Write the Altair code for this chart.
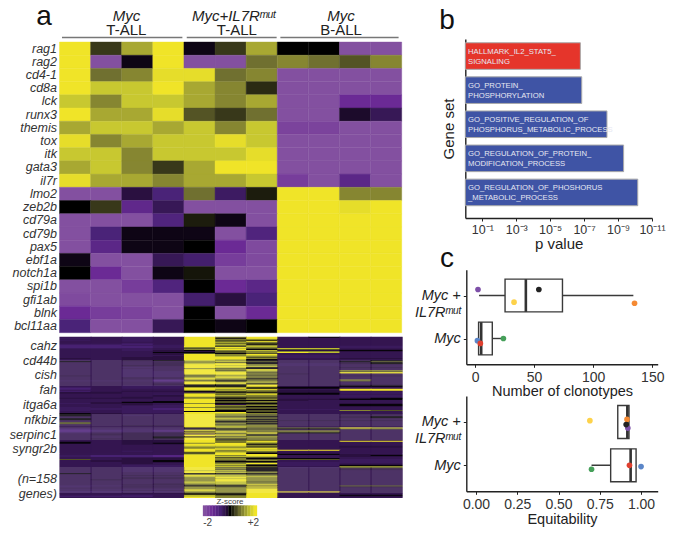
import altair as alt
import pandas as pd

FONT = "Liberation Sans"
W, H = 658, 520
def IX(v): return v - 8
def IY(v): return v - 8
def OFF(v): return IY(v) - H

Z_STOPS = [-2, -1.4, -0.8, -0.3, 0, 0.4, 0.8, 1.3, 1.6, 2]
Z_COLORS = ["#8350a0", "#6b2a95", "#4a2378", "#2a1040", "#000000", "#38381a", "#707030", "#a8a832", "#c8c830", "#f0e428"]

GENES_TOP = ["rag1","rag2","cd4-1","cd8a","lck","runx3","themis","tox","itk","gata3","il7r"]
VALUES_TOP = [
 [2,.4,1.3,2,-.1,.4,1.3,0,0,-2,-2],
 [2,-2,-.1,2,-2,-2,.8,1.0,.8,.6,1.0],
 [2,.8,1.0,1.9,1.9,.8,1.0,-2,-2,-2,-2],
 [2,1.6,1.6,2,1.3,1.0,.3,-2,-2,-2,-2],
 [1.6,1.0,1.6,1.6,1.3,1.0,1.3,-2,-2,-1.4,-1.4],
 [2,1.3,1.3,1.9,.6,.4,.8,-2,-2,-.2,-.5],
 [1.3,1.6,1.6,1.3,1.6,1.0,1.6,-1.8,-1.8,-2,-2],
 [1.9,1.0,1.3,1.6,1.6,1.9,1.6,-2,-2,-2,-2],
 [1.6,1.6,1.0,1.6,1.6,1.6,1.9,-2,-2,-2,-2],
 [1.3,1.6,1.0,.4,1.3,2,2,-2,-2,-2,-2],
 [1.9,1.3,1.3,1.0,1.3,1.3,1.6,-1.7,-2,-1.1,-2],
]
GENES_MID = ["lmo2","zeb2b","cd79a","cd79b","pax5","ebf1a","notch1a","spi1b","gfi1ab","blnk","bcl11aa"]
VALUES_MID = [
 [-2,-2,-.3,-.8,.8,-.6,.2,2,2,1.0,1.0],
 [0,.4,-1.2,-.5,-2,-2,-2,2,2,1.9,2],
 [-2,-2,-2,-.9,.2,-.1,-2,2,2,2,2],
 [-2,-.8,-.1,-.1,-.1,-2,-.9,2,2,2,2],
 [-2,-1.1,-.1,-.1,0,-1.4,-1.9,2,2,2,2],
 [-.1,-2,-2,-.5,-.7,-1.7,-1.9,2,2,2,2],
 [0,-1.4,-2,-.1,.15,-2,-2,2,2,2,2],
 [-2,-2,-1.7,-.9,0,-1.4,-1.1,2,2,2,2],
 [-1.9,-2,-2,-2,-.7,-.3,-.8,2,2,2,2],
 [-1.4,-1.7,-1.8,-2,0,-2,-1.4,2,2,2,2],
 [-.8,-2,-2,-.5,0,-.1,0,2,2,2,2],
]
LEVELS = [-1.0, -0.75, -0.55, -0.45, -0.3, -0.05, 0.6, 1.0, 1.5, 2]
ROWS_LOW = """3323 979 3533|2323 959 3333|3323 978 3333|2323 965 3333|3323 969 3333|3333 987 3333|3323 966 3333|2213 985 3333
1122 977 3333|1112 968 3322|1112 797 3322|2223 686 8833|3323 795 6644|3324 578 4455|3334 467 7744|3335 567 9833
3334 656 3333|3334 979 3333|3333 978 2233|3334 987 2233|3344 996 2233|4344 997 3344|3344 985 3333|3345 875 3345
5333 786 3356|3334 765 3345|3334 895 2245|3334 997 2233|3344 987 2233|3333 998 3333|3323 985 3344|3333 765 3333
3323 979 3333|3323 968 3377|3322 987 3366|3322 996 3399|3322 997 4333|3322 786 3333|4322 676 3344|3322 797 3333
3344 886 3333|3333 975 3333|3331 767 3373|2220 656 3363|3332 978 3333|3333 997 3333|3334 985 3333|3334 559 3344
3322 559 3355|2322 776 5533|1322 995 5533|1333 979 3399|3333 887 4499|1344 567 4433|4433 455 4422|4433 777 5522
3332 969 5533|3334 987 3322|3334 977 3322|3343 766 3322|4443 756 3345|3333 967 4455|3333 955 4333|3345 967 3333
3455 966 3333|2443 755 3344|3343 946 3355|3332 977 3355|3322 965 3344|2322 766 3333|2221 976 3333|2221 965 2233
2322 956 3376|3322 556 3333|3322 995 3333|5433 987 3333|5333 976 3344|5323 976 3333|4333 965 3345|3333 976 3345
5333 986 3333|5333 975 3333|3333 966 4444|3333 955 3333|6333 966 3333|6333 975 3333|3333 966 3333|3344 977 3333
3333 987 3333|3333 576 6698|1222 456 5566|1222 766 3333|0120 977 7733|1222 596 6633|2344 979 5533|3444 467 3333
3444 995 3333|3344 976 3333|3345 568 3333|3345 986 3333|3444 957 3333|3344 966 3333|3344 979 3399|5344 968 3333
5345 797 3333|3344 995 3333|3333 997 3333|3333 886 3344|3333 776 3344|3333 789 3333|3333 998 3333|3333 979 9933
3323 977 3333|3333 686 3333|3333 695 4433|3333 899 5544|2110 979 3345|2110 988 3344|3333 966 3333|3344 975 5533
6344 976 6622|3445 967 3322|3445 955 3322|3344 966 2222|3343 979 2233|3333 986 2244|3322 975 2255|3322 986 3377
3322 965 2266|3322 975 3344|3322 965 3344|3322 885 3333|3322 976 3333|3333 987 3333|5333 555 3333|3333 776 3333
3344 987 3333|3333 888 3333|3344 797 3333|3344 787 3333|3433 797 3333|3333 797 3333|3333 886 3333|3333 887 3333
3334 787 3333|3344 669 3333|2233 556 3366|2344 769 3344|3333 777 3333|3333 779 3333|2222 979 3333|3344 879 3333
1111 779 9933|3344 669 3333|3333 559 3333|3323 869 3355|1113 879 3344|3333 979 3333"""
ROWS_LOW = [r.replace(" ", "") for line in ROWS_LOW.split("\n") for r in line.split("|")]
LOW_LABELS = {"8.5":"cahz","23":"cd44b","37.5":"cish","52":"fah","66.5":"itga6a","81":"nfkbiz","95.5":"serpinc1","110":"syngr2b","139.5":"(n=158","154":"genes)"}
LOW_TICKS = [8.5,23,37.5,52,66.5,81,95.5,110,139.5,154]

LEGEND_Z = [-2,-1.75,-1.5,-1.25,-1,-.75,-.5,-.25,0,.25,.5,.75,1,1.25,1.5,1.75,2]

HEAD_TOP = ["Myc","Myc+IL7Rᵐᵘᵗ","Myc"]
HEAD_TOP_X = [2.15,5.6,9.05]
HEAD_BOT = ["T-ALL","T-ALL","B-ALL"]
HEAD_BOT_X = [2.15,5.7,9.05]
RULE_START = [0.08,4.09,7.1]
RULE_END = [3.95,6.98,10.9]

GENESETS = ["HALLMARK_IL2_STAT5_\nSIGNALING","GO_PROTEIN_\nPHOSPHORYLATION","GO_POSITIVE_REGULATION_OF\nPHOSPHORUS_METABOLIC_PROCESS","GO_REGULATION_OF_PROTEIN_\nMODIFICATION_PROCESS","GO_REGULATION_OF_PHOSHORUS\n_METABOLIC_PROCESS"]
PVALS = [1.66e-7,1.38e-7,4.5e-9,4.7e-10,6.9e-11]
BAR_COLORS = ["#e5352b","#3f54a5","#3f54a5","#3f54a5","#3f54a5"]
P_TICKS = [1e-1,1e-3,1e-5,1e-7,1e-9,1e-11]

CAT_Y = [0,1]
C1_BOX = dict(q1=[25.4,3], med=[43,5.2], q3=[74,14.6], lo=[3.4,3], hi=[134,24])
C1_PTS = dict(x=[2.5,33,54,135,2,4.5,24], y=[-.14,.155,-.14,.18,1.05,1.115,1.0],
              c=["#7d4fa8","#fdd24a","#222222","#f58a33","#5b86c8","#e0402f","#46a05a"])
C2_BOX = dict(q1=[.859,.816], med=[.917,.937], q3=[.927,.97], lo=[.859,.70], hi=[.927,.97])
C2_PTS = dict(x=[.69,.92,.915,.91,.70,1.0,.93], y=[-.03,.14,-.06,.06,1.09,1.03,1.0],
              c=["#fdd24a","#7d4fa8","#f58a33","#222222","#46a05a","#5b86c8","#e0402f"])

z_scale = alt.Scale(domain=Z_STOPS, range=Z_COLORS, interpolate="rgb")
heat_color = alt.Color("z:Q", scale=z_scale, legend=None)
heat_stroke = alt.Stroke("z:Q", scale=z_scale, legend=None)
x_heat = alt.Scale(domain=[0,11], range=[IX(59.5), IX(401.7)], nice=False, zero=False)

def long_heat(genes, vals):
    return pd.DataFrame([{"g":g,"c":j,"c2":j+1,"z":v} for g,row in zip(genes,vals) for j,v in enumerate(row)])

gene_axis = dict(orient="left", offset=-IX(59.5), title=None, ticks=False, domain=False, labelFont=FONT,
                 labelFontStyle="italic", labelFontSize=12.5, labelColor="#333333", labelPadding=3, labelOverlap=False)

def heat_panel(genes, vals, y0, y1):
    return alt.Chart(long_heat(genes, vals)).mark_rect(strokeWidth=0.4).encode(
        x=alt.X("c:Q", scale=x_heat, axis=None),
        x2="c2:Q",
        y=alt.Y("g:N", sort=genes, scale=alt.Scale(domain=genes, range=[IY(y0),IY(y1)]), axis=alt.Axis(**gene_axis)),
        color=heat_color, stroke=heat_stroke)

low_df = pd.DataFrame([{"r":i,"r2":i+1.25,"c":j,"c2":j+1.03,"z":LEVELS[int(ch)]} for i,row in enumerate(ROWS_LOW) for j,ch in enumerate(row)])
label_expr = "{" + ",".join(f"'{k}':'{v}'" for k,v in LOW_LABELS.items()) + "}[''+datum.value]"
low = alt.Chart(low_df).mark_rect(clip=True).encode(
    x=alt.X("c:Q", scale=x_heat, axis=None), x2="c2:Q",
    y=alt.Y("r:Q", scale=alt.Scale(domain=[0,len(ROWS_LOW)], range=[IY(336.7),IY(497.7)], nice=False, zero=False),
            axis=alt.Axis(values=LOW_TICKS, labelExpr=label_expr, grid=False, **gene_axis)),
    y2="r2:Q", color=heat_color)

head1 = alt.Chart(pd.DataFrame({"t":HEAD_TOP,"x":HEAD_TOP_X})).mark_text(font=FONT,fontSize=15,fontStyle="italic",color="#222222").encode(
    x=alt.X("x:Q",scale=x_heat,axis=None), y=alt.value(IY(15.5)), text="t:N")
head2 = alt.Chart(pd.DataFrame({"t":HEAD_BOT,"x":HEAD_BOT_X})).mark_text(font=FONT,fontSize=15,color="#222222").encode(
    x=alt.X("x:Q",scale=x_heat,axis=None), y=alt.value(IY(30)), text="t:N")
head_rule = alt.Chart(pd.DataFrame({"a":RULE_START,"b":RULE_END})).mark_rule(color="#777777",strokeWidth=1.5).encode(
    x=alt.X("a:Q",scale=x_heat,axis=None), x2="b:Q", y=alt.value(IY(37.5)))

def letter(t, x, y):
    return alt.Chart(pd.DataFrame({"t":[t]})).mark_text(font=FONT,fontSize=28,align="center",baseline="alphabetic",color="#111111").encode(
        x=alt.value(IX(x)), y=alt.value(IY(y)), text="t:N")

# colour key
x_leg = alt.Scale(domain=[-2.125,2.125], range=[IX(203),IX(257)], nice=False, zero=False)
leg_df = pd.DataFrame({"z":LEGEND_Z,"a":[v-.125 for v in LEGEND_Z],"b":[v+.125 for v in LEGEND_Z]})
legend = alt.Chart(leg_df).mark_rect(strokeWidth=0.3).encode(
    x=alt.X("a:Q",scale=x_leg,axis=alt.Axis(orient="bottom",offset=OFF(516),values=[-1.8,1.8],labelExpr="datum.value<0?'-2':'+2'",
        title=None,ticks=False,domain=False,grid=False,labelFont=FONT,labelFontSize=10,labelColor="#444444",labelPadding=1)),
    x2="b:Q", y=alt.value(IY(505.5)), y2=alt.value(IY(516)), color=heat_color, stroke=heat_stroke)
leg_title = alt.Chart(pd.DataFrame({"t":["Z-score"],"x":[0]})).mark_text(font=FONT,fontSize=8,color="#444444").encode(
    x=alt.X("x:Q",scale=x_leg,axis=None), y=alt.value(IY(501.5)), text="t:N")

# panel b
x_b = alt.Scale(type="log", domain=[1,1e-11], range=[IX(465.3),IX(652)], nice=False)
y_b = alt.Scale(domain=[-0.5,4.75], range=[IY(39),IY(218)], nice=False, zero=False)
b_df = pd.DataFrame({"s":GENESETS,"p":PVALS,"c":BAR_COLORS,"one":[1]*5,"i":list(range(5))})
b_df["y0"] = b_df["i"]-.39
b_df["y1"] = b_df["i"]+.39
axis_common = dict(grid=False,labelFont=FONT,titleFont=FONT,titleFontWeight="normal",domainColor="#222222",domainWidth=1.4,
                   tickColor="#222222",labelColor="#333333",titleColor="#222222",tickSize=3)
b_bars = alt.Chart(b_df).mark_rect(stroke="#aaaaaa",strokeWidth=1).encode(
    x=alt.X("p:Q",scale=x_b,axis=alt.Axis(orient="bottom",offset=OFF(218),values=P_TICKS,title="p value",titleFontSize=15,labelFontSize=12.5,
        titlePadding=1,labelPadding=2,labelFlush=False,labelOverlap=False,
        labelExpr="'10'+{'1':'⁻¹','3':'⁻³','5':'⁻⁵','7':'⁻⁷','9':'⁻⁹','11':'⁻¹¹'}[''+round(-log(datum.value)/LN10)]",**axis_common)),
    x2="one:Q",
    y=alt.Y("y0:Q",scale=y_b,axis=alt.Axis(orient="left",offset=-IX(465.3),values=[],title="Gene set",titleFontSize=15,titlePadding=9,labels=False,ticks=False,**axis_common)),
    y2="y1:Q",
    color=alt.Color("c:N",scale=None))
b_text = alt.Chart(b_df).mark_text(font=FONT,fontSize=7.7,color="#e6e8f2",align="left",baseline="middle",lineBreak="\n",lineHeight=9.5,dy=-4).encode(
    x=alt.value(IX(468)), y=alt.Y("i:Q",scale=y_b,axis=None), text="s:N")

def box_panel(box, pts, x_dom, x_vals, x_fmt, y_top, y_bot, title, title_pad):
    xs = alt.Scale(domain=x_dom, range=[IX(466.3),IX(657.7)], nice=False, zero=False)
    ys = alt.Scale(domain=[-0.6,1.6], range=[IY(y_top),IY(y_bot)], nice=False, zero=False)
    d = pd.DataFrame(box); d["y"] = CAT_Y; d["t"] = d["y"]-.38; d["u"] = d["y"]+.38
    p = pd.DataFrame(pts)
    whisk = alt.Chart(d).mark_rule(color="#3a3a3a",strokeWidth=1.4).encode(
        x=alt.X("lo:Q",scale=xs,axis=alt.Axis(orient="bottom",offset=OFF(y_bot),values=x_vals,format=x_fmt,title=title,titleFontSize=14.5,
            labelFontSize=14,titlePadding=title_pad,labelPadding=3,**axis_common)),
        x2="hi:Q",
        y=alt.Y("y:Q",scale=ys,axis=alt.Axis(orient="left",offset=-IX(466.3),values=CAT_Y,title=None,labelFontSize=14.5,labelFontStyle="italic",
            labelColor="#222222",labelPadding=3,grid=False,labelFont=FONT,domainColor="#222222",domainWidth=1.4,tickColor="#222222",tickSize=3,
            labelExpr="datum.value==0?['Myc +','IL7Rᵐᵘᵗ']:'Myc'")))
    rect = alt.Chart(d).mark_rect(fill="white",stroke="#3a3a3a",strokeWidth=1.4).encode(
        x=alt.X("q1:Q",scale=xs,axis=None), x2="q3:Q", y=alt.Y("t:Q",scale=ys,axis=None), y2="u:Q")
    med = alt.Chart(d).mark_rule(color="#333333",strokeWidth=2.6).encode(
        x=alt.X("med:Q",scale=xs,axis=None), y=alt.Y("t:Q",scale=ys,axis=None), y2="u:Q")
    dots = alt.Chart(p).mark_circle(size=32,opacity=1).encode(
        x=alt.X("x:Q",scale=xs,axis=None), y=alt.Y("y:Q",scale=ys,axis=None), color=alt.Color("c:N",scale=None))
    return [whisk,rect,med,dots]

c1 = box_panel(C1_BOX,C1_PTS,[-7.4,154.6],[0,50,100,150],"d",269.7,364.3,"Number of clonotypes",0)
c2 = box_panel(C2_BOX,C2_PTS,[-0.0588,1.101],[0,.25,.5,.75,1],".2f",396,491.3,"Equitability",1)

layers = [heat_panel(GENES_TOP,VALUES_TOP,42,187.3), heat_panel(GENES_MID,VALUES_MID,187.3,332.7), low,
          head1, head2, head_rule, letter("a",44,25), letter("b",447,29), letter("c",447,267),
          legend, leg_title, b_bars, b_text] + c1 + c2

chart = alt.layer(*layers).resolve_scale(x="independent",y="independent",color="independent",stroke="independent").properties(
    width=W,height=H,padding=0,autosize=alt.AutoSizeParams(type="none"),background="white"
).configure_view(strokeWidth=0)

chart.save("out.html", embed_options={"renderer": "svg", "actions": False})
